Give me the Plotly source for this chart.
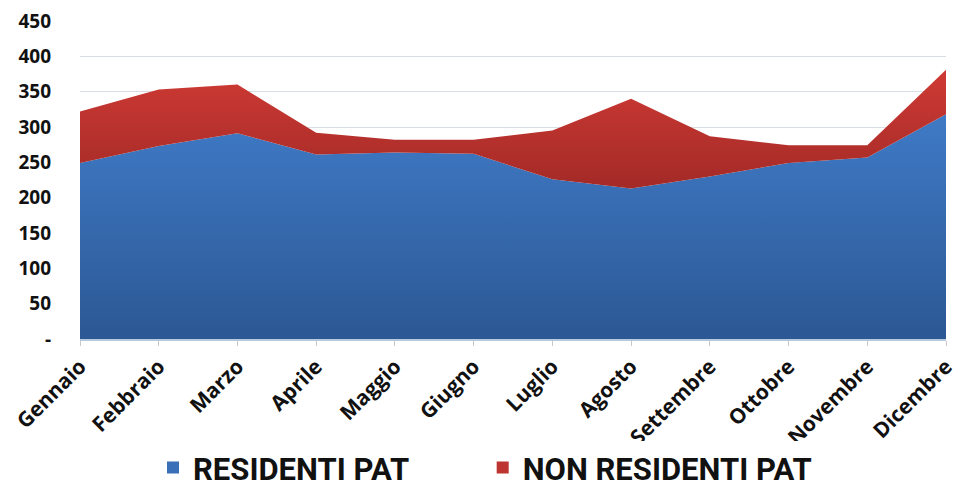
import plotly.graph_objects as go

months = ["Gennaio", "Febbraio", "Marzo", "Aprile", "Maggio", "Giugno", "Luglio",
          "Agosto", "Settembre", "Ottobre", "Novembre", "Dicembre"]
residenti = [249, 273, 291, 261, 264, 262, 226, 213, 230, 249, 257, 318]
non_residenti = [73, 80, 69, 31, 18, 20, 69, 127, 57, 25, 17, 63]
y_ticks = [0, 50, 100, 150, 200, 250, 300, 350, 400, 450]
y_ticktext = ["-"] + [str(v) for v in y_ticks[1:]]
series_names = ["RESIDENTI PAT", "NON RESIDENTI PAT"]
legend_colors = ["#3A70B8", "#BE3430"]

x = list(range(len(months)))

fig = go.Figure()
fig.add_trace(go.Scatter(
    x=x, y=residenti, name=series_names[0], stackgroup="one", showlegend=False,
    mode="none", fillcolor="#3A70B8",
    fillgradient=dict(type="vertical", colorscale=[[0, "#2C5894"], [1, "#3F7AC6"]]),
))
fig.add_trace(go.Scatter(
    x=x, y=non_residenti, name=series_names[1], stackgroup="one", showlegend=False,
    mode="none", fillcolor="#BE3430",
    fillgradient=dict(type="vertical", colorscale=[[0, "#A32A27"], [1, "#CF3A34"]]),
))
for nm, col, lg in zip(series_names, legend_colors, ["legend", "legend2"]):
    fig.add_trace(go.Scatter(
        x=[None], y=[None], name=nm, mode="markers", legend=lg,
        marker=dict(symbol="square", size=22, color=col),
    ))

legend_font = dict(family="Roboto, sans-serif", size=31, color="#111111", weight="bold")

fig.update_layout(
    width=961, height=493,
    margin=dict(l=80, r=15, t=21, b=154, autoexpand=False),
    paper_bgcolor="white", plot_bgcolor="white",
    showlegend=True,
    legend=dict(orientation="h", x=0.0843, xanchor="left", y=-0.405, yanchor="middle",
                font=legend_font, itemsizing="constant", borderwidth=0),
    legend2=dict(orientation="h", x=0.465, xanchor="left", y=-0.405, yanchor="middle",
                 font=legend_font, itemsizing="constant", borderwidth=0),
    xaxis=dict(
        range=[0, 11], tickmode="array", tickvals=x, ticktext=months,
        tickangle=-45, showgrid=False, zeroline=False, automargin=False,
        showline=True, linecolor="#B9C9DD", linewidth=2,
        ticks="outside", ticklen=5, tickcolor="#C8C8C8",
        tickfont=dict(family="Open Sans, sans-serif", size=21, color="#111111", weight="bold"),
    ),
    yaxis=dict(
        range=[0, 450], tickmode="array", tickvals=y_ticks, ticktext=y_ticktext,
        showgrid=True, gridcolor="#D9DEE4", gridwidth=1, zeroline=False, automargin=False,
        showline=False, ticks="", ticklabelstandoff=28,
        tickfont=dict(family="Open Sans, sans-serif", size=19, color="#111111", weight="bold"),
    ),
)

fig.write_html("out.html")
